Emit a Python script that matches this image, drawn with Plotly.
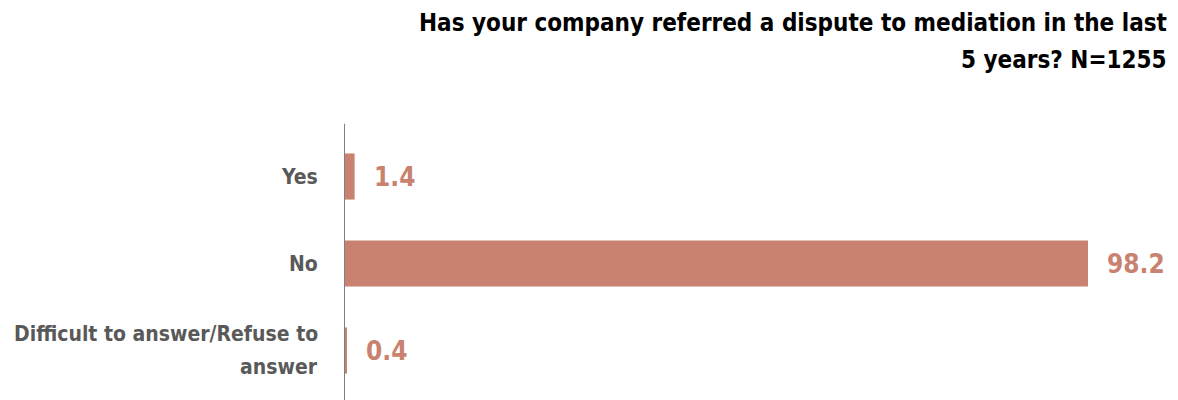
import plotly.graph_objects as go

# Survey answers and shares (%)
categories = ["Yes", "No", "Difficult to answer/Refuse to<br>answer"]
shares = [1.4, 98.2, 0.4]
value_labels = ["1.4", "98.2", "0.4"]

title_lines = [
    "Has your company referred a dispute to mediation in the last",
    "5 years? N=1255",
]

BAR_COLOR = "#C8826F"
LABEL_COLOR = "#595959"
FONT = "DejaVu Sans Condensed, DejaVu Sans"
LINE_STEP = 33  # px between lines of a wrapped category label

fig = go.Figure(
    go.Bar(
        x=shares,
        y=categories,
        orientation="h",
        marker=dict(color=BAR_COLOR, line=dict(width=0)),
        width=0.53,
        hoverinfo="skip",
    )
)

# Value labels to the right of each bar
for cat, val, lab in zip(categories, shares, value_labels):
    fig.add_annotation(
        x=val, y=cat, xref="x", yref="y",
        text=lab, showarrow=False,
        xanchor="left", yanchor="middle", xshift=17,
        font=dict(family=FONT, size=26, color=BAR_COLOR, weight="bold"),
    )

# Category labels, right-aligned left of the axis, with roomy line spacing
for cat in categories:
    lines = cat.split("<br>")
    n = len(lines)
    for i, line in enumerate(lines):
        fig.add_annotation(
            x=0, y=cat, xref="paper", yref="y",
            text=line, showarrow=False,
            xanchor="right", yanchor="middle", xshift=-24,
            yshift=((n - 1) / 2 - i) * LINE_STEP,
            font=dict(family=FONT, size=21, color=LABEL_COLOR, weight="bold"),
        )

# Two-line right-aligned title
for text, ypos in zip(title_lines, [1.422, 1.278]):
    fig.add_annotation(
        x=1, y=ypos, xref="paper", yref="paper",
        text=text, showarrow=False,
        xanchor="right", yanchor="middle", xshift=3,
        font=dict(family=FONT, size=24, color="#000000", weight="bold"),
    )

# Vertical baseline at zero, extending slightly past the plot area
fig.add_shape(
    type="line", xref="x", yref="paper",
    x0=0, x1=0, y0=-0.03, y1=1.035,
    line=dict(color="#808080", width=2),
    layer="above",
)

fig.update_layout(
    width=1178, height=400,
    margin=dict(l=344, r=12, t=133, b=6),
    paper_bgcolor="white", plot_bgcolor="white",
    showlegend=False,
    bargap=0.47,
    font=dict(family=FONT),
)
fig.update_xaxes(
    range=[0, 108.5], showgrid=False, zeroline=False,
    showticklabels=False, showline=False, fixedrange=True,
)
fig.update_yaxes(
    categoryorder="array", categoryarray=categories, autorange="reversed",
    showgrid=False, zeroline=False, showline=False,
    showticklabels=False, ticks="", fixedrange=True,
)

fig.write_html("out.html")
